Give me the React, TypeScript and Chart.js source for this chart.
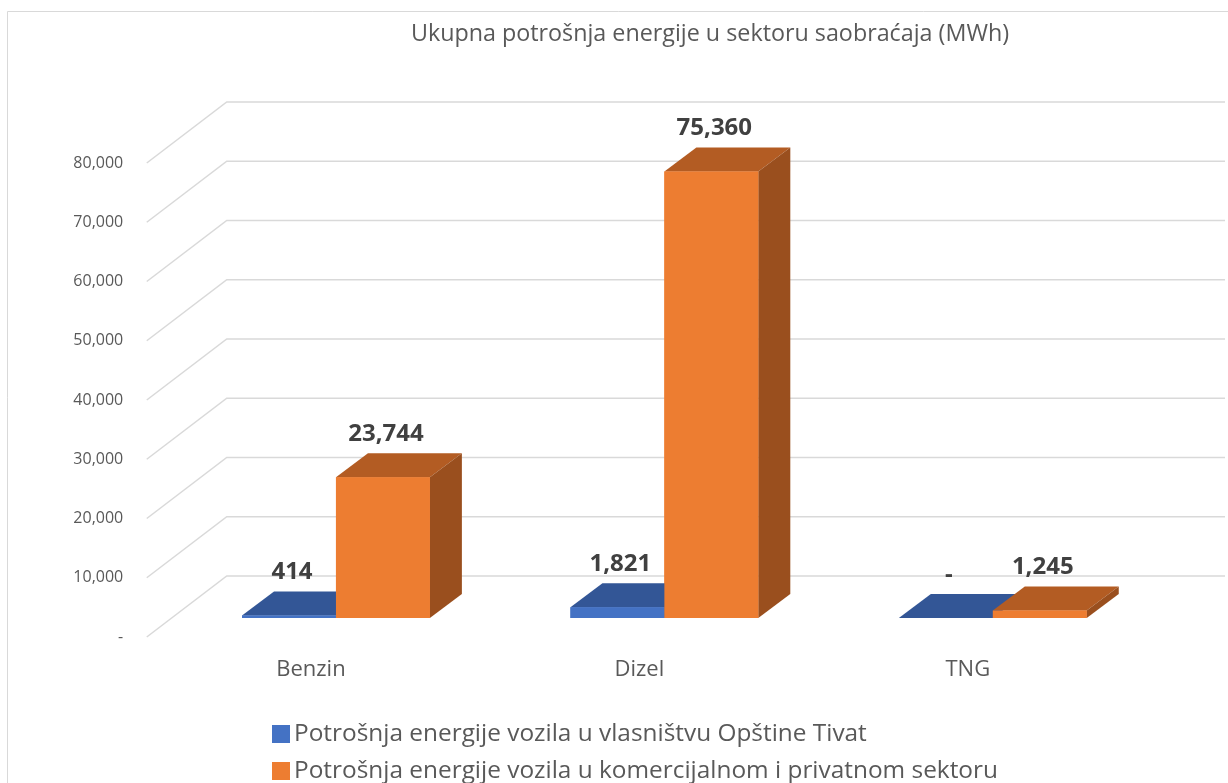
import React, { useEffect, useRef } from 'react';
import { Chart, registerables } from 'chart.js';

Chart.register(...registerables);

// ---- data ----
const chartTitle = 'Ukupna potrošnja energije u sektoru saobraćaja (MWh)';
const categories = ['Benzin', 'Dizel', 'TNG'];
const seriesNames = [
  'Potrošnja energije vozila u vlasništvu Opštine Tivat',
  'Potrošnja energije vozila u komercijalnom i privatnom sektoru',
];
const municipalValues = [414, 1821, 0];
const commercialValues = [23744, 75360, 1245];
const yTickValues = [0, 10000, 20000, 30000, 40000, 50000, 60000, 70000, 80000];

// ---- styles ----
const FONT = "'Open Sans', 'DejaVu Sans', sans-serif";
const frontColors = ['#4472C4', '#ED7D31'];
const topColors = ['#335696', '#B35C23'];
const sideColors = ['#2B4A82', '#9A4F1E'];
const TEXT = '#595959';
const GRID = '#D9D9D9';
const BAR_DX = 32;
const BAR_DY = 24;
const FLOOR_FRONT_DX = -25;
const FLOOR_FRONT_DY = 19;
const FLOOR_BACK_DX = 55;
const FLOOR_BACK_DY = -42;

const fmt = (v: number) => (v === 0 ? '-' : v.toLocaleString('en-US'));

const threeD = {
  id: 'threeD',
  beforeDraw(chart: any) {
    const { ctx, width, height } = chart;
    ctx.save();
    ctx.fillStyle = '#FFFFFF';
    ctx.fillRect(0, 0, width, height);
    // chart border
    ctx.strokeStyle = GRID;
    ctx.lineWidth = 1;
    ctx.beginPath();
    ctx.moveTo(7.5, height + 2);
    ctx.lineTo(7.5, 11.5);
    ctx.lineTo(width + 2, 11.5);
    ctx.stroke();
    // title
    ctx.fillStyle = TEXT;
    ctx.font = `23.3px ${FONT}`;
    ctx.textAlign = 'center';
    ctx.textBaseline = 'middle';
    ctx.fillText(chartTitle, 710, 34);
    // legend
    ctx.font = `24.4px ${FONT}`;
    ctx.textAlign = 'left';
    const rows = [734, 771];
    seriesNames.forEach((name, i) => {
      ctx.fillStyle = frontColors[i];
      ctx.fillRect(272, rows[i] - 9, 18, 18);
      ctx.fillStyle = TEXT;
      ctx.fillText(name, 294, rows[i]);
    });
    ctx.restore();
  },
  beforeDatasetsDraw(chart: any) {
    const { ctx, chartArea, scales, width } = chart;
    const ys = scales.y;
    ctx.save();
    ctx.strokeStyle = GRID;
    ctx.lineWidth = 1.5;
    yTickValues.forEach((v) => {
      const y = ys.getPixelForValue(v);
      ctx.beginPath();
      ctx.moveTo(chartArea.left + FLOOR_FRONT_DX, y + FLOOR_FRONT_DY);
      ctx.lineTo(chartArea.left + FLOOR_BACK_DX, y + FLOOR_BACK_DY);
      ctx.lineTo(width - 3, y + FLOOR_BACK_DY);
      ctx.stroke();
    });
    ctx.restore();
  },
  afterDatasetsDraw(chart: any) {
    const { ctx, chartArea } = chart;
    const n = chart.data.labels.length;
    ctx.save();
    // paint bars in painter's order: category by category, left series first
    for (let i = 0; i < n; i++) {
      chart.data.datasets.forEach((_ds: any, di: number) => {
        const el = chart.getDatasetMeta(di).data[i];
        const { x, y, base, width } = el.getProps(['x', 'y', 'base', 'width'], true);
        const x0 = x - width / 2;
        const x1 = x + width / 2;
        ctx.fillStyle = topColors[di];
        ctx.beginPath();
        ctx.moveTo(x0, y);
        ctx.lineTo(x0 + BAR_DX, y - BAR_DY);
        ctx.lineTo(x1 + BAR_DX, y - BAR_DY);
        ctx.lineTo(x1, y);
        ctx.closePath();
        ctx.fill();
        ctx.fillStyle = sideColors[di];
        ctx.beginPath();
        ctx.moveTo(x1, y);
        ctx.lineTo(x1 + BAR_DX, y - BAR_DY);
        ctx.lineTo(x1 + BAR_DX, base - BAR_DY);
        ctx.lineTo(x1, base);
        ctx.closePath();
        ctx.fill();
        el.draw(ctx, chartArea);
      });
    }
    // data labels
    ctx.font = `bold 24px ${FONT}`;
    ctx.fillStyle = '#404040';
    ctx.textAlign = 'center';
    ctx.textBaseline = 'middle';
    chart.data.datasets.forEach((ds: any, di: number) => {
      const meta = chart.getDatasetMeta(di);
      meta.data.forEach((el: any, i: number) => {
        const { x, y } = el.getProps(['x', 'y'], true);
        ctx.fillText(fmt(ds.data[i]), x + 3, y - 43);
      });
    });
    ctx.restore();
  },
};

export default function App() {
  const ref = useRef<HTMLCanvasElement | null>(null);
  useEffect(() => {
    if (!ref.current) return;
    const chart = new Chart(ref.current, {
      type: 'bar',
      data: {
        labels: categories,
        datasets: [
          {
            label: seriesNames[0],
            data: municipalValues,
            backgroundColor: frontColors[0],
            borderWidth: 0,
            barPercentage: 1,
            categoryPercentage: 0.572,
          },
          {
            label: seriesNames[1],
            data: commercialValues,
            backgroundColor: frontColors[1],
            borderWidth: 0,
            barPercentage: 1,
            categoryPercentage: 0.572,
          },
        ],
      },
      options: {
        responsive: false,
        animation: false,
        events: [],
        layout: { padding: { top: 144, right: 71, left: 0, bottom: 0 } },
        plugins: {
          legend: { display: false },
          title: { display: false },
          tooltip: { enabled: false },
        },
        scales: {
          x: {
            grid: { display: false, drawTicks: false },
            border: { display: false },
            ticks: {
              color: TEXT,
              font: { family: FONT, size: 22 },
              padding: 38.8,
              labelOffset: -25,
              maxRotation: 0,
              autoSkip: false,
            },
            afterFit: (s: any) => {
              s.height = 165;
            },
          },
          y: {
            min: 0,
            max: 80000,
            grid: { display: false, drawTicks: false },
            border: { display: false },
            ticks: {
              stepSize: 10000,
              color: TEXT,
              font: { family: FONT, size: 16 },
              padding: 48.5,
              labelOffset: 19,
              callback: (v: any) => fmt(Number(v)),
            },
            afterFit: (s: any) => {
              s.width = 171.75;
            },
          },
        },
      },
      plugins: [threeD],
    });
    return () => chart.destroy();
  }, []);
  return (
    <div style={{ position: 'absolute', left: 0, top: 0, width: 1228, height: 783 }}>
      <canvas ref={ref} width={1228} height={783} />
    </div>
  );
}
